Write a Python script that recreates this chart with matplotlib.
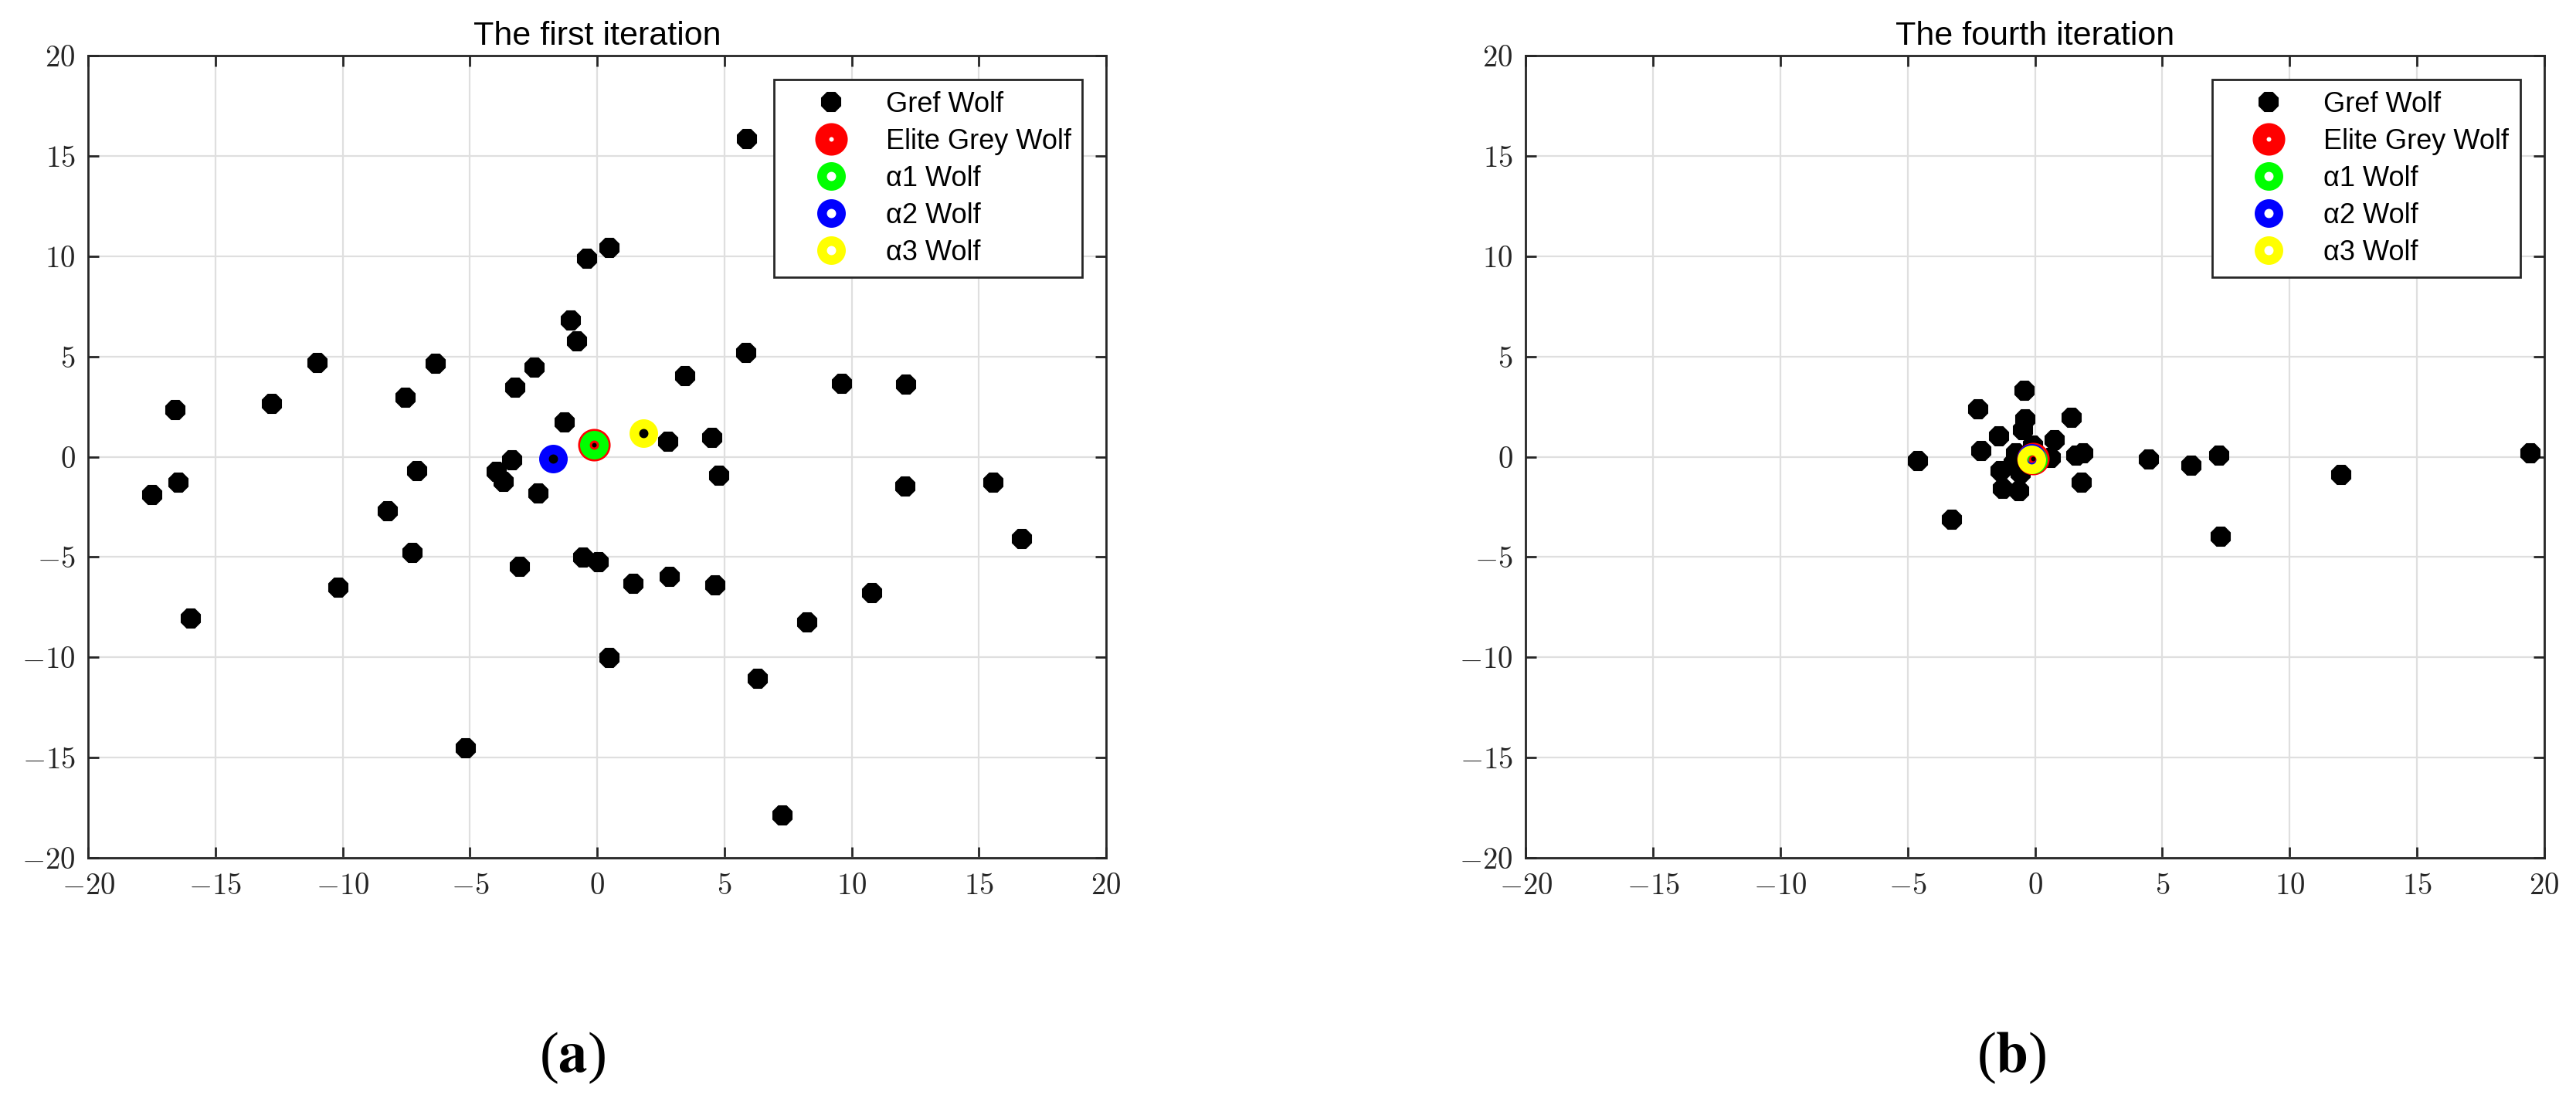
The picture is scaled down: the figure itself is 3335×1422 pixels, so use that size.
import matplotlib
matplotlib.use('Agg')
import matplotlib.pyplot as plt
from matplotlib.ticker import MultipleLocator, FuncFormatter

plt.rcParams['font.family'] = ['Liberation Sans', 'DejaVu Sans']
plt.rcParams['mathtext.fontset'] = 'cm'

# ---- first iteration (a) ----
grey1_x = [-0.41, -1.05, -0.80, -10.99, -6.34, -2.47, -3.21, -7.53, -12.78, -16.57, -1.27,
           5.89, 0.47, 5.84, 3.45, 9.63, 12.14, 2.80, 4.52,
           -3.34, -3.95, -3.69, -7.08, -16.46, -17.48, -2.30, -8.22, -7.25, -0.54, 0.05,
           -3.03, -10.16, -15.96, -5.15,
           4.80, 12.11, 15.57, 16.70, 1.43, 2.86, 4.65, 10.81, 8.24, 0.47, 6.32, 7.28,
           -0.14, -1.72, 1.82]
grey1_y = [9.89, 6.81, 5.76, 4.69, 4.63, 4.44, 3.44, 2.96, 2.63, 2.32, 1.72,
           15.86, 10.41, 5.17, 4.02, 3.63, 3.60, 0.75, 0.95,
           -0.16, -0.73, -1.25, -0.71, -1.29, -1.89, -1.83, -2.70, -4.80, -5.01, -5.25,
           -5.48, -6.51, -8.08, -14.53,
           -0.93, -1.47, -1.29, -4.11, -6.32, -5.97, -6.42, -6.80, -8.24, -10.04, -11.07, -17.87,
           0.60, -0.09, 1.17]
elite1 = [-0.14, 0.60]
alpha1_1 = [-0.14, 0.60]
alpha2_1 = [-1.72, -0.09]
alpha3_1 = [1.82, 1.17]

# ---- fourth iteration (b) ----
grey4_x = [-4.59, -3.26, -2.23, -0.41, -0.37, -0.47, -1.42, -2.11, 1.45, 0.77, 1.63, 1.88,
           0.62, 1.84, 4.48, 6.13, 7.24, 7.30, -1.35, -1.25, -0.62, -0.75, -0.55, -0.09,
           -0.85, -0.14, 12.03, 19.45]
grey4_y = [-0.20, -3.15, 2.37, 3.29, 1.86, 1.34, 1.02, 0.29, 1.94, 0.85, 0.08, 0.16,
           -0.07, -1.29, -0.11, -0.42, 0.08, -3.98, -0.71, -1.61, -1.71, 0.18, -0.84, 0.57,
           -0.33, -0.12, -0.89, 0.17]
elite4 = [-0.09, -0.10]
alpha1_4 = [-0.08, -0.11]
alpha2_4 = [-0.14, -0.07]
alpha3_4 = [-0.14, -0.14]

labels = ['Gref Wolf', 'Elite Grey Wolf', '\u03b11 Wolf', '\u03b12 Wolf', '\u03b13 Wolf']
ticks_fmt = FuncFormatter(lambda v, p: r'$%d$' % v)


def draw(ax, gx, gy, elite, a1, a2, a3, title):
    ax.plot(gx, gy, ls='none', marker='8', ms=19, color='black', mec='black', mew=1.5,
            label=labels[0])
    ax.plot(elite[0], elite[1], ls='none', marker='o', ms=17.3, mfc='none', mec='red',
            mew=13, label=labels[1])
    ax.plot(a1[0], a1[1], ls='none', marker='o', ms=17.6, mfc='none', mec=(0, 1, 0),
            mew=9, label=labels[2])
    ax.plot(a2[0], a2[1], ls='none', marker='o', ms=17.6, mfc='none', mec=(0, 0, 1),
            mew=9, label=labels[3])
    ax.plot(a3[0], a3[1], ls='none', marker='o', ms=17.6, mfc='none', mec=(1, 1, 0),
            mew=9, label=labels[4])
    ax.set_xlim(-20, 20)
    ax.set_ylim(-20, 20)
    ax.xaxis.set_major_locator(MultipleLocator(5))
    ax.yaxis.set_major_locator(MultipleLocator(5))
    ax.xaxis.set_major_formatter(ticks_fmt)
    ax.yaxis.set_major_formatter(ticks_fmt)
    ax.set_axisbelow(True)
    ax.grid(True, color='#dfdfdf', linewidth=1.6)
    for s in ax.spines.values():
        s.set_color('#262626')
        s.set_linewidth(2)
    ax.tick_params(direction='in', length=10, width=2, color='#262626', top=True,
                   right=True, labelsize=28, labelcolor='#262626')
    ax.tick_params(axis='x', pad=14)
    ax.tick_params(axis='y', pad=12)
    ax.set_title(title, fontsize=31, pad=10, color='black')
    leg = ax.legend(loc='upper right', bbox_to_anchor=(1 - 31 / 1318, 1 - 31 / 1039),
                    borderaxespad=0, fontsize=26, handlelength=3.27, handletextpad=0.33,
                    labelspacing=0.36, borderpad=0.4, fancybox=False, framealpha=1,
                    edgecolor='#262626', numpoints=1)
    leg.get_frame().set_linewidth(2)


fig = plt.figure(figsize=(33.35, 14.22), dpi=100)
ax1 = fig.add_axes([0.03427, 0.21871, 0.39511, 0.73045])
ax2 = fig.add_axes([0.59232, 0.21871, 0.39532, 0.73045])

draw(ax1, grey1_x, grey1_y, elite1, alpha1_1, alpha2_1, alpha3_1, 'The first iteration')
draw(ax2, grey4_x, grey4_y, elite4, alpha1_4, alpha2_4, alpha3_4, 'The fourth iteration')

fig.text(0.2222, 0.0366, r'($\mathbf{a}$)', ha='center', va='center', fontsize=54,
         family='Liberation Serif', math_fontfamily='stix')
fig.text(0.7808, 0.0366, r'($\mathbf{b}$)', ha='center', va='center', fontsize=54,
         family='Liberation Serif', math_fontfamily='stix')

fig.savefig('out.png', dpi=100)
